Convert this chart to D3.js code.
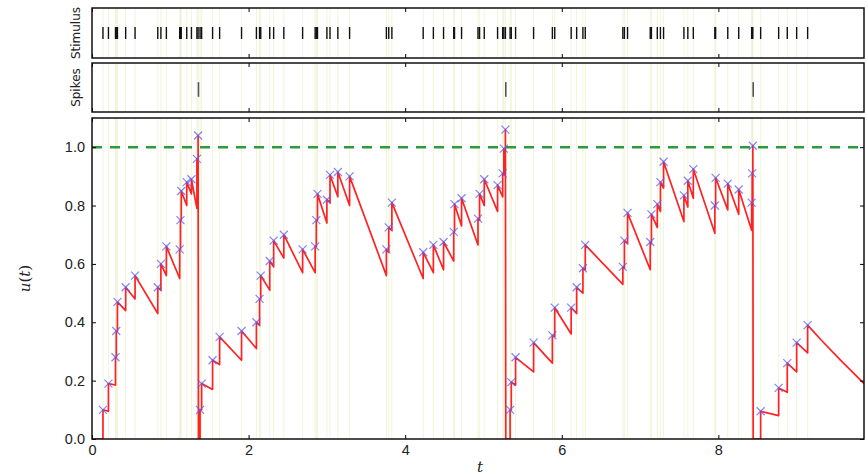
<!DOCTYPE html>
<html>
<head>
<meta charset="utf-8">
<script src="https://cdn.jsdelivr.net/npm/d3@7/dist/d3.min.js"></script>
<style>
    body { margin: 0; background: #fff; }
    svg { display: block; font-family: "DejaVu Sans", sans-serif; }
    .tick text { fill: #222; }
</style>
</head>
<body>
<svg id="chart" width="868" height="476"></svg>
<script>
// Instantes dos estímulos.
var stimTimes = [0.14, 0.21, 0.30, 0.31, 0.325, 0.43, 0.55, 0.84, 0.88, 0.95, 1.12, 1.13, 1.14, 1.21, 1.27, 1.34, 1.355,
    1.38, 1.40, 1.54, 1.63, 1.91, 2.10, 2.14, 2.155, 2.27, 2.32, 2.45, 2.69, 2.85, 2.865, 2.88, 3.00, 3.04, 3.14, 3.29,
    3.76, 3.79, 3.83, 4.23, 4.36, 4.49, 4.62, 4.63, 4.72, 4.93, 4.95, 5.01, 5.18, 5.245, 5.26, 5.28,
    5.34, 5.355, 5.41, 5.64, 5.88, 5.91, 6.12, 6.19, 6.27, 6.30, 6.78, 6.80, 6.84, 7.13, 7.145, 7.22, 7.26, 7.30,
    7.56, 7.61, 7.68, 7.955, 7.965, 8.12, 8.26, 8.425, 8.432, 8.44,
    8.54, 8.77, 8.88, 9.00, 9.14];
// u(t) logo antes de cada estímulo.
var uBefore = [0.00, 0.095, 0.185, 0.28, 0.37, 0.44, 0.48, 0.43, 0.51, 0.56, 0.55, 0.65, 0.75, 0.80, 0.84, 0.79, 0.96,
    0.00, 0.10, 0.17, 0.255, 0.27, 0.31, 0.39, 0.48, 0.51, 0.59, 0.62, 0.57, 0.57, 0.66, 0.75, 0.74, 0.81, 0.83, 0.80,
    0.56, 0.64, 0.715, 0.55, 0.57, 0.58, 0.61, 0.71, 0.73, 0.665, 0.75, 0.80, 0.78, 0.83, 0.905, 0.99,
    0.00, 0.10, 0.185, 0.23, 0.26, 0.35, 0.36, 0.43, 0.50, 0.58, 0.53, 0.585, 0.67, 0.58, 0.67, 0.725, 0.78, 0.86,
    0.745, 0.795, 0.825, 0.705, 0.80, 0.785, 0.77, 0.715, 0.81, 0.91,
    0.00, 0.08, 0.16, 0.23, 0.295];
// u(t) logo depois de cada estímulo (marcadores x).
var uAfter = [0.10, 0.19, 0.28, 0.37, 0.47, 0.52, 0.56, 0.52, 0.60, 0.66, 0.65, 0.75, 0.85, 0.88, 0.89, 0.96, 1.04,
    0.10, 0.19, 0.27, 0.35, 0.37, 0.40, 0.48, 0.56, 0.61, 0.68, 0.70, 0.65, 0.66, 0.75, 0.84, 0.82, 0.905, 0.915, 0.90,
    0.65, 0.725, 0.81, 0.64, 0.665, 0.675, 0.71, 0.805, 0.825, 0.755, 0.84, 0.89, 0.87, 0.91, 0.995, 1.06,
    0.10, 0.195, 0.28, 0.33, 0.355, 0.45, 0.45, 0.52, 0.585, 0.665, 0.59, 0.68, 0.775, 0.675, 0.77, 0.805, 0.88, 0.95,
    0.835, 0.885, 0.925, 0.80, 0.895, 0.875, 0.855, 0.81, 0.91, 1.005,
    0.095, 0.175, 0.26, 0.33, 0.39];
// Disparos (reset para zero).
var spikeTimes = [1.36, 5.285, 8.445];
// Decaimento final depois do último estímulo.
var tailT = [9.31, 9.56, 9.73, 9.86];
var tailU = [0.34, 0.27, 0.225, 0.19];

var threshold = 1.0;
var tMax = 9.86;
var xTicks = [0, 2, 4, 6, 8];
var yTicks = [0.0, 0.2, 0.4, 0.6, 0.8, 1.0];

var svg = d3.select('#chart');

// Geometria dos painéis.
var left = 92, right = 864;
var pStim = { top: 8, bottom: 58 },
    pSpk = { top: 63, bottom: 112 },
    pU = { top: 118, bottom: 439 };

var x = d3.scaleLinear().domain([0, tMax]).range([left, right]);
var y = d3.scaleLinear().domain([0, 1.1]).range([pU.bottom, pU.top]);
var yStim = d3.scaleLinear().domain([0, 1]).range([pStim.bottom, pStim.top]);
var ySpk = d3.scaleLinear().domain([0, 1]).range([pSpk.bottom, pSpk.top]);

svg.append('defs').append('clipPath').attr('id', 'clipU')
    .append('rect').attr('x', left).attr('y', pU.top)
    .attr('width', right - left).attr('height', pU.bottom - pU.top);

// Linhas verticais nos instantes dos estímulos, em cada painel.
[pStim, pSpk, pU].forEach(function (p) {
    svg.append('g').selectAll('line')
        .data(stimTimes)
        .enter().append('line')
        .attr('x1', function (d) { return x(d); })
        .attr('x2', function (d) { return x(d); })
        .attr('y1', p.top).attr('y2', p.bottom)
        .attr('stroke', '#dfe3a6')
        .attr('stroke-opacity', 0.4)
        .attr('stroke-width', 1);
});

// Raster dos estímulos.
svg.append('g').selectAll('line')
    .data(stimTimes)
    .enter().append('line')
    .attr('x1', function (d) { return x(d); })
    .attr('x2', function (d) { return x(d); })
    .attr('y1', yStim(0.62)).attr('y2', yStim(0.38))
    .attr('stroke', '#111')
    .attr('stroke-width', 1.4);

// Raster dos disparos.
svg.append('g').selectAll('line')
    .data(spikeTimes)
    .enter().append('line')
    .attr('x1', function (d) { return x(d); })
    .attr('x2', function (d) { return x(d); })
    .attr('y1', ySpk(0.61)).attr('y2', ySpk(0.31))
    .attr('stroke', '#555')
    .attr('stroke-width', 1.6);

// Trajetória de u(t).
var pts = [[0, 0]];
stimTimes.forEach(function (t, i) {
    pts.push([t, uBefore[i]]);
    pts.push([t, uAfter[i]]);
    var next = i + 1 < stimTimes.length ? stimTimes[i + 1] : Infinity;
    spikeTimes.forEach(function (s) {
        if (s > t && s < next) pts.push([s, 0]);
    });
});
tailT.forEach(function (t, i) { pts.push([t, tailU[i]]); });

var line = d3.line()
    .x(function (d) { return x(d[0]); })
    .y(function (d) { return y(d[1]); });

var gU = svg.append('g').attr('clip-path', 'url(#clipU)');

gU.append('path')
    .datum(pts)
    .attr('d', line)
    .attr('fill', 'none')
    .attr('stroke', '#ff2222')
    .attr('stroke-width', 1.7)
    .attr('stroke-linejoin', 'round');

// Limiar.
gU.append('line')
    .attr('x1', left).attr('x2', right)
    .attr('y1', y(threshold)).attr('y2', y(threshold))
    .attr('stroke', '#2e9a3a')
    .attr('stroke-width', 2.5)
    .attr('stroke-dasharray', '10,8');

// Marcadores x.
var m = 4;
gU.append('g').selectAll('path')
    .data(stimTimes)
    .enter().append('path')
    .attr('d', function (d, i) {
        var cx = x(d), cy = y(uAfter[i]);
        return 'M' + (cx - m) + ',' + (cy - m) + 'L' + (cx + m) + ',' + (cy + m)
            + 'M' + (cx - m) + ',' + (cy + m) + 'L' + (cx + m) + ',' + (cy - m);
    })
    .attr('stroke', '#5b5bf0')
    .attr('stroke-opacity', 0.75)
    .attr('stroke-width', 1.2)
    .attr('fill', 'none');

// Eixos (ticks para dentro, estilo matplotlib).
function styleAxis(g) {
    g.select('.domain').remove();
    g.selectAll('.tick line').attr('stroke', '#000');
}

[pStim, pSpk].forEach(function (p) {
    svg.append('g').attr('transform', 'translate(0,' + p.bottom + ')')
        .call(d3.axisBottom(x).tickValues(xTicks).tickSizeInner(-4).tickSizeOuter(0).tickFormat(''))
        .call(styleAxis);
    svg.append('g').attr('transform', 'translate(0,' + p.top + ')')
        .call(d3.axisTop(x).tickValues(xTicks).tickSizeInner(-4).tickSizeOuter(0).tickFormat(''))
        .call(styleAxis);
});

svg.append('g').attr('transform', 'translate(0,' + pU.bottom + ')')
    .call(d3.axisBottom(x).tickValues(xTicks).tickSizeInner(-4).tickSizeOuter(0).tickPadding(6).tickFormat(d3.format('d')))
    .call(styleAxis)
    .selectAll('text').attr('font-size', 14.5);
svg.append('g').attr('transform', 'translate(0,' + pU.top + ')')
    .call(d3.axisTop(x).tickValues(xTicks).tickSizeInner(-4).tickSizeOuter(0).tickFormat(''))
    .call(styleAxis);
svg.append('g').attr('transform', 'translate(' + left + ',0)')
    .call(d3.axisLeft(y).tickValues(yTicks).tickSizeInner(-4).tickSizeOuter(0).tickPadding(7).tickFormat(d3.format('.1f')))
    .call(styleAxis)
    .selectAll('text').attr('font-size', 14.5);
svg.append('g').attr('transform', 'translate(' + right + ',0)')
    .call(d3.axisRight(y).tickValues(yTicks).tickSizeInner(-4).tickSizeOuter(0).tickFormat(''))
    .call(styleAxis);

// Molduras.
[pStim, pSpk, pU].forEach(function (p) {
    svg.append('rect')
        .attr('x', left).attr('y', p.top)
        .attr('width', right - left).attr('height', p.bottom - p.top)
        .attr('fill', 'none')
        .attr('stroke', '#111')
        .attr('stroke-width', 1.5);
});

// Rótulos.
svg.append('text')
    .attr('transform', 'translate(80,' + (pStim.top + pStim.bottom) / 2 + ') rotate(-90)')
    .attr('text-anchor', 'middle').attr('font-size', 12).attr('fill', '#222')
    .text('Stimulus');
svg.append('text')
    .attr('transform', 'translate(80,' + (pSpk.top + pSpk.bottom) / 2 + ') rotate(-90)')
    .attr('text-anchor', 'middle').attr('font-size', 12).attr('fill', '#222')
    .text('Spikes');
svg.append('text')
    .attr('transform', 'translate(30,' + (pU.top + pU.bottom) / 2 + ') rotate(-90)')
    .attr('text-anchor', 'middle').attr('font-size', 15).attr('fill', '#222')
    .attr('font-family', '"DejaVu Serif", serif')
    .html('<tspan font-style="italic">u</tspan>(<tspan font-style="italic">t</tspan>)');
svg.append('text')
    .attr('x', (left + right) / 2 + 2).attr('y', 472)
    .attr('text-anchor', 'middle').attr('font-size', 15).attr('fill', '#222')
    .attr('font-family', '"DejaVu Serif", serif').attr('font-style', 'italic')
    .text('t');
</script>
</body>
</html>
